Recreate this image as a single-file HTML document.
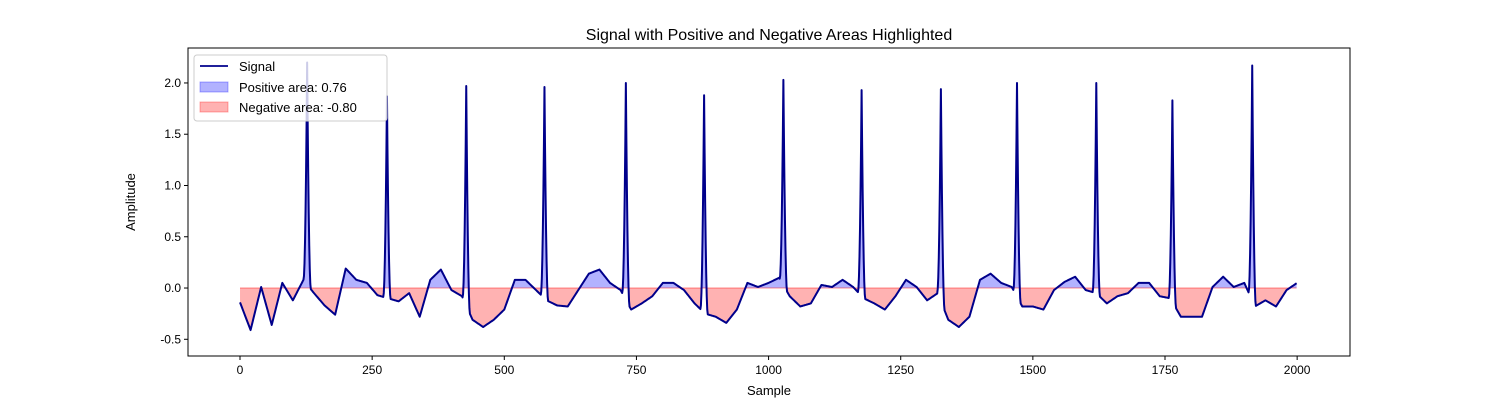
<!DOCTYPE html>
<html><head><meta charset="utf-8"><style>
body{margin:0;background:#fff;}
svg text{font-family:"Liberation Sans","DejaVu Sans",sans-serif;fill:#000;}
</style></head><body>
<svg id="chart" width="1500" height="400" xmlns="http://www.w3.org/2000/svg">
<rect width="1500" height="400" fill="#fff"/>
<text x="769" y="40" font-size="16" text-anchor="middle">Signal with Positive and Negative Areas Highlighted</text>
<g id="fills"></g><g id="line"></g><g id="axes"></g>
<text x="769" y="395" font-size="13" text-anchor="middle">Sample</text>
<text x="135" y="202" font-size="13" text-anchor="middle" transform="rotate(-90 135 202)">Amplitude</text>
<g>
<rect x="194" y="55" width="193" height="66" rx="3" fill="#fff" fill-opacity="0.8" stroke="#ccc"/>
<line x1="200" y1="66" x2="228" y2="66" stroke="#00008b" stroke-width="1.8"/>
<text x="239" y="71" font-size="13">Signal</text>
<rect x="200" y="82" width="28" height="10" fill="#0000ff" fill-opacity="0.3" stroke="#0000ff" stroke-opacity="0.3"/>
<text x="239" y="92" font-size="13">Positive area: 0.76</text>
<rect x="200" y="102" width="28" height="10" fill="#ff0000" fill-opacity="0.3" stroke="#ff0000" stroke-opacity="0.3"/>
<text x="239" y="112" font-size="13">Negative area: -0.80</text>
</g>
</svg>
<script>
const baseStep = 20;
const baseline = [-0.14,-0.41,0.01,-0.36,0.05,-0.12,0.08,-0.05,-0.17,-0.26,0.19,0.08,0.05,-0.07,-0.1,-0.13,-0.05,-0.28,0.08,0.18,-0.02,-0.08,-0.31,-0.38,-0.31,-0.21,0.08,0.08,-0.02,-0.12,-0.17,-0.18,-0.02,0.14,0.18,0.05,-0.02,-0.21,-0.15,-0.08,0.05,0.05,-0.02,-0.15,-0.25,-0.28,-0.34,-0.21,0.05,0.01,0.05,0.1,-0.08,-0.18,-0.15,0.03,0.01,0.08,0.01,-0.1,-0.15,-0.21,-0.08,0.08,0.01,-0.12,-0.05,-0.31,-0.38,-0.28,0.08,0.14,0.05,0.01,-0.18,-0.18,-0.21,-0.02,0.06,0.11,-0.02,-0.05,-0.15,-0.08,-0.05,0.05,0.05,-0.08,-0.1,-0.28,-0.28,-0.28,0.01,0.11,0.01,0.05,-0.18,-0.12,-0.18,-0.02,0.05];
const peakPos = [127,278,428,576,730,878,1028,1176,1326,1470,1620,1764,1915];
const peakAmp = [2.2,1.87,1.97,1.96,2.0,1.88,2.03,1.93,1.94,2.0,2.0,1.83,2.17];
const xTicks = [0,250,500,750,1000,1250,1500,1750,2000];
const yTicks = [-0.5,0.0,0.5,1.0,1.5,2.0];

const L=188,R=1350,T=48,B=356,X0=-98.4,X1=2100,Y0=-0.663,Y1=2.341;
const sx=v=>L+(v-X0)/(X1-X0)*(R-L);
const sy=v=>B-(v-Y0)/(Y1-Y0)*(B-T);
const NS='http://www.w3.org/2000/svg';
function mk(tag,attrs,parent){const e=document.createElementNS(NS,tag);for(const k in attrs)e.setAttribute(k,attrs[k]);parent.appendChild(e);return e;}

const N=2000, hw=7;
const sig=[];
for(let i=0;i<N;i++){
  const k=Math.min(Math.floor(i/baseStep),baseline.length-2);
  const f=(i-k*baseStep)/baseStep;
  let v=baseline[k]*(1-f)+baseline[k+1]*f;
  for(let p=0;p<peakPos.length;p++){
    const d=Math.abs(i-peakPos[p]);
    if(d<hw){const w=1-d/hw; v+= (peakAmp[p]-v)*w*w;}
  }
  sig.push(v);
}
const fills=document.getElementById('fills');
let pos=`M${sx(0)},${sy(0)}`, neg=`M${sx(0)},${sy(0)}`;
for(let i=0;i<N;i++){pos+=`L${sx(i).toFixed(2)},${sy(Math.max(sig[i],0)).toFixed(2)}`;neg+=`L${sx(i).toFixed(2)},${sy(Math.min(sig[i],0)).toFixed(2)}`;}
pos+=`L${sx(N-1)},${sy(0)}Z`;neg+=`L${sx(N-1)},${sy(0)}Z`;
const pf=mk('path',{d:pos,fill:'#0000ff','fill-opacity':0.3,stroke:'none'},fills);


const nf=mk('path',{d:neg,fill:'#ff0000','fill-opacity':0.3,stroke:'none'},fills);


const zl=mk('line',{x1:sx(0),x2:sx(N-1),y1:sy(0),y2:sy(0),stroke:'#ff0000','stroke-opacity':0.3,'stroke-width':1.5},fills);


let d='';for(let i=0;i<N;i++)d+=(i?'L':'M')+sx(i).toFixed(2)+','+sy(sig[i]).toFixed(2);
const ln=mk('path',{d:d,fill:'none',stroke:'#00008b','stroke-width':2,'stroke-linejoin':'round'},document.getElementById('line'));



const ax=document.getElementById('axes');
const fr=mk('rect',{x:L,y:T,width:R-L,height:B-T,fill:'none',stroke:'#000','stroke-width':1},ax);


xTicks.forEach(t=>{
  const x=sx(t);
  mk('line',{x1:x,x2:x,y1:B,y2:B+4,stroke:'#000'},ax);
  const tx=mk('text',{x:x,y:B+18,'font-size':12,'text-anchor':'middle'},ax);tx.textContent=t;
  
  
});
yTicks.forEach(t=>{
  const y=sy(t);
  mk('line',{x1:L-4,x2:L,y1:y,y2:y,stroke:'#000'},ax);
  const tx=mk('text',{x:L-7,y:y+4,'font-size':12,'text-anchor':'end'},ax);tx.textContent=t.toFixed(1);
  
  
});
</script>
</body></html>
